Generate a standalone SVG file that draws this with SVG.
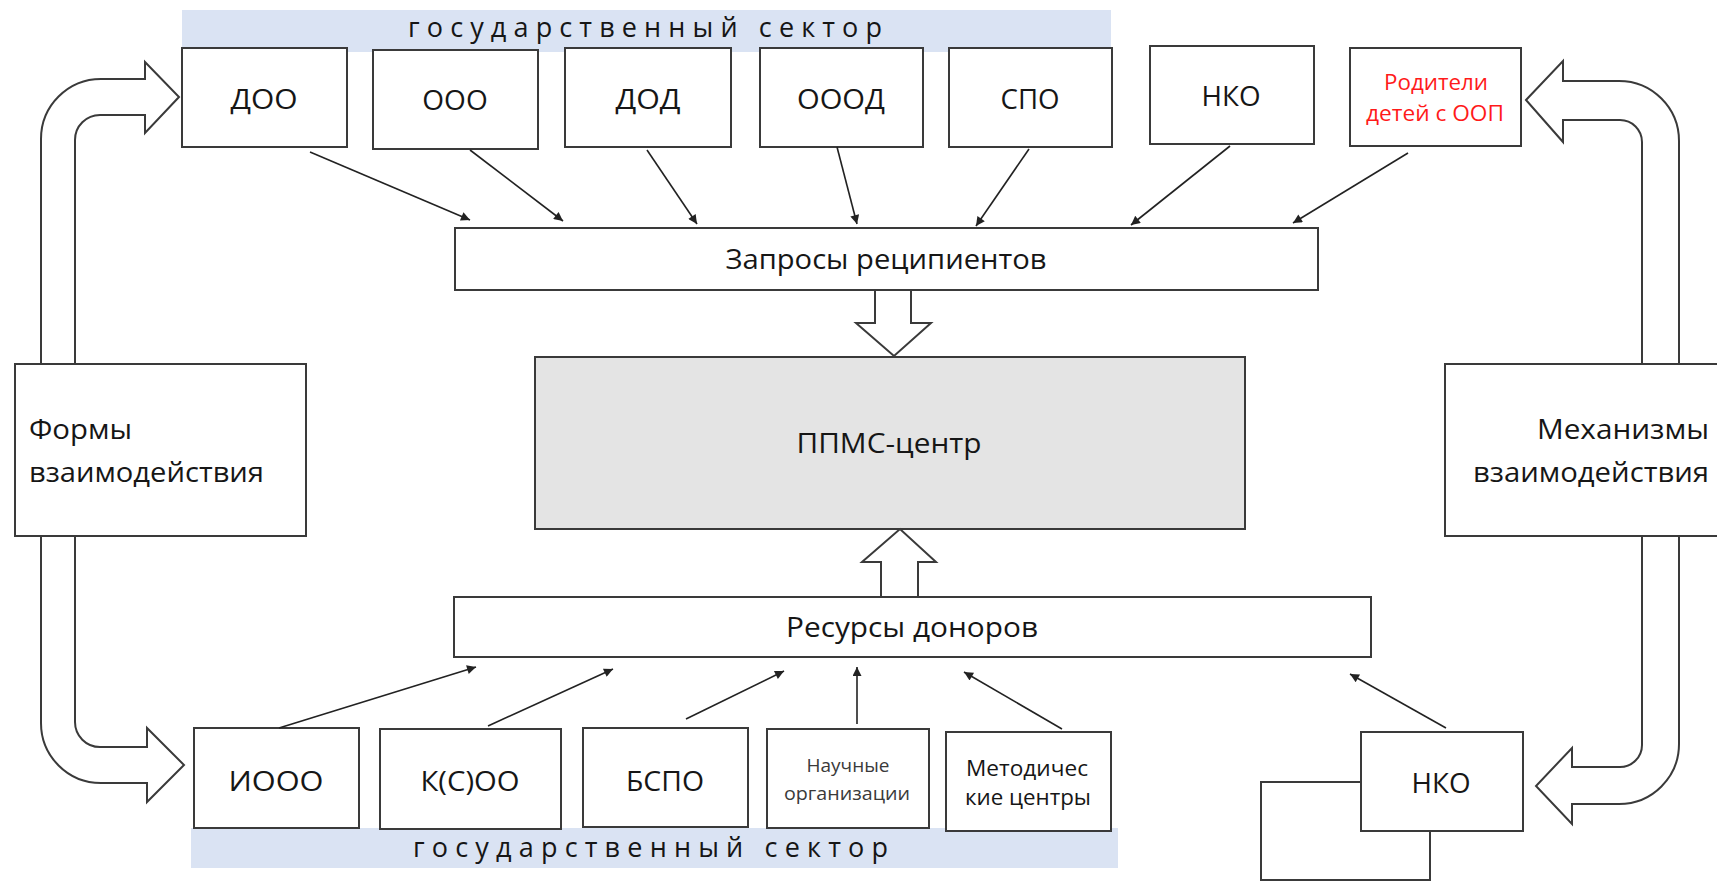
<svg xmlns="http://www.w3.org/2000/svg" width="1717" height="882" viewBox="0 0 1717 882">
<style>
.box{fill:#fff;stroke:#3a3a3a;stroke-width:2}
.center{fill:#e4e4e4;stroke:#3a3a3a;stroke-width:2}
.blk{fill:#fff;stroke:#3a3a3a;stroke-width:2;stroke-linejoin:miter}
.band{fill:#dae3f3}
.lbl{font-family:"Open Sans","Noto Sans",sans-serif;font-size:28px;fill:#161616;text-anchor:middle}
.lbl2{font-family:"Open Sans","Noto Sans",sans-serif;font-size:28px;fill:#161616}
.sm{font-family:"Open Sans","Noto Sans",sans-serif;font-size:22px;fill:#161616;text-anchor:middle}
.xs{font-family:"Open Sans","Noto Sans",sans-serif;font-size:18px;fill:#3a3a3a;text-anchor:middle}
.red{fill:#ff1a1a}
.bandtxt{font-family:"Open Sans","Noto Sans",sans-serif;font-size:27px;fill:#161616}
.conn line{stroke:#222;stroke-width:1.6;marker-end:url(#ah)}
</style>
<defs>
<marker id="ah" viewBox="0 0 10 10" refX="10" refY="5" markerWidth="12" markerHeight="9" markerUnits="userSpaceOnUse" orient="auto">
<path d="M0,0 L10,5 L0,10 z" fill="#222"/>
</marker>
</defs>

<g id="band-top">
<rect class="band" x="182" y="10" width="929" height="42"/>
<text class="bandtxt" x="408" y="37" textLength="474" lengthAdjust="spacing">государственный сектор</text>
</g>
<g id="band-bottom">
<rect class="band" x="191" y="828" width="927" height="40"/>
<text class="bandtxt" x="413" y="857" textLength="475" lengthAdjust="spacing">государственный сектор</text>
</g>

<g id="left-u-arrow">
<path class="blk" d="M179,97 L145,133 L145,115 L100,115 A25,25 0 0 0 75,140 L75,722 A25,25 0 0 0 100,747 L147,747 L147,728 L184,765 L147,802 L147,783 L101,783 A60,60 0 0 1 41,723 L41,139 A60,60 0 0 1 101,79 L145,79 L145,62 Z"/>
</g>
<g id="right-u-arrow">
<path class="blk" d="M1526,100 L1563,61 L1563,81 L1619,81 A60,60 0 0 1 1679,141 L1679,744 A60,60 0 0 1 1619,804 L1572,804 L1572,824 L1536,786 L1572,748 L1572,767 L1620,767 A22,22 0 0 0 1642,745 L1642,142 A22,22 0 0 0 1620,120 L1563,120 L1563,142 Z"/>
</g>

<g id="forms">
<rect class="box" x="15" y="364" width="291" height="172"/>
<text class="lbl2" x="29" y="439" textLength="103" lengthAdjust="spacingAndGlyphs">Формы</text>
<text class="lbl2" x="29" y="482" textLength="235" lengthAdjust="spacingAndGlyphs">взаимодействия</text>
</g>
<g id="mechanisms">
<rect class="box" x="1445" y="364" width="290" height="172"/>
<text class="lbl2" x="1709" y="439" text-anchor="end" textLength="172" lengthAdjust="spacingAndGlyphs">Механизмы</text>
<text class="lbl2" x="1709" y="482" text-anchor="end" textLength="236" lengthAdjust="spacingAndGlyphs">взаимодействия</text>
</g>

<g id="doo"><rect class="box" x="182" y="48" width="165" height="99"/><text class="lbl" x="264" y="109" textLength="67" lengthAdjust="spacingAndGlyphs">ДОО</text></g>
<g id="ooo"><rect class="box" x="373" y="50" width="165" height="99"/><text class="lbl" x="455" y="110">ООО</text></g>
<g id="dod"><rect class="box" x="565" y="48" width="166" height="99"/><text class="lbl" x="648" y="109" textLength="65" lengthAdjust="spacingAndGlyphs">ДОД</text></g>
<g id="oood"><rect class="box" x="760" y="48" width="163" height="99"/><text class="lbl" x="841" y="109" textLength="88" lengthAdjust="spacingAndGlyphs">ОООД</text></g>
<g id="spo"><rect class="box" x="949" y="48" width="163" height="99"/><text class="lbl" x="1030" y="109" textLength="59" lengthAdjust="spacingAndGlyphs">СПО</text></g>
<g id="nko-top"><rect class="box" x="1150" y="46" width="164" height="98"/><text class="lbl" x="1231" y="106" textLength="59" lengthAdjust="spacingAndGlyphs">НКО</text></g>
<g id="parents"><rect class="box" x="1350" y="48" width="171" height="98"/>
<text class="sm red" x="1436" y="90" textLength="104" lengthAdjust="spacingAndGlyphs">Родители</text>
<text class="sm red" x="1435" y="121" textLength="138" lengthAdjust="spacingAndGlyphs">детей с ООП</text></g>

<g id="requests"><rect class="box" x="455" y="228" width="863" height="62"/><text class="lbl" x="886" y="269" textLength="321" lengthAdjust="spacingAndGlyphs">Запросы реципиентов</text></g>

<g id="arrow-down">
<path class="blk" d="M875,290 L911,290 L911,323 L931,323 L894,356 L856,323 L875,323 Z"/>
</g>

<g id="ppms"><rect class="center" x="535" y="357" width="710" height="172"/><text class="lbl" x="889" y="453" textLength="185" lengthAdjust="spacingAndGlyphs">ППМС-центр</text></g>

<g id="arrow-up">
<path class="blk" d="M881,597 L918,597 L918,562 L936,562 L900,529 L862,562 L881,562 Z"/>
</g>

<g id="resources"><rect class="box" x="454" y="597" width="917" height="60"/><text class="lbl" x="912" y="637" textLength="252" lengthAdjust="spacingAndGlyphs">Ресурсы доноров</text></g>

<g id="iooo"><rect class="box" x="194" y="728" width="165" height="100"/><text class="lbl" x="276" y="791" textLength="95" lengthAdjust="spacingAndGlyphs">ИООО</text></g>
<g id="ksoo"><rect class="box" x="380" y="729" width="181" height="100"/><text class="lbl" x="470" y="791" textLength="99" lengthAdjust="spacingAndGlyphs">К(С)ОО</text></g>
<g id="bspo"><rect class="box" x="583" y="728" width="165" height="99"/><text class="lbl" x="665" y="791" textLength="78" lengthAdjust="spacingAndGlyphs">БСПО</text></g>
<g id="science"><rect class="box" x="767" y="729" width="162" height="99"/>
<text class="xs" x="848" y="772" textLength="83" lengthAdjust="spacingAndGlyphs">Научные</text>
<text class="xs" x="847" y="800" textLength="126" lengthAdjust="spacingAndGlyphs">организации</text></g>
<g id="method"><rect class="box" x="946" y="732" width="165" height="99"/>
<text class="sm" x="1027" y="776" textLength="122" lengthAdjust="spacingAndGlyphs">Методичес</text>
<text class="sm" x="1028" y="805" textLength="126" lengthAdjust="spacingAndGlyphs">кие центры</text></g>

<g id="nko-back"><rect class="box" x="1261" y="782" width="169" height="98"/></g>
<g id="nko-bottom"><rect class="box" x="1361" y="732" width="162" height="99"/><text class="lbl" x="1441" y="793" textLength="59" lengthAdjust="spacingAndGlyphs">НКО</text></g>

<g id="connectors" class="conn">
<line x1="310" y1="152" x2="470" y2="220"/>
<line x1="470" y1="150" x2="563" y2="221"/>
<line x1="647" y1="150" x2="697" y2="224"/>
<line x1="837" y1="147" x2="857" y2="224"/>
<line x1="1029" y1="149" x2="976" y2="226"/>
<line x1="1230" y1="146" x2="1131" y2="225"/>
<line x1="1408" y1="153" x2="1293" y2="223"/>
<line x1="279" y1="728" x2="476" y2="667"/>
<line x1="488" y1="726" x2="613" y2="669"/>
<line x1="686" y1="719" x2="784" y2="671"/>
<line x1="857" y1="724" x2="857" y2="667"/>
<line x1="1062" y1="729" x2="964" y2="672"/>
<line x1="1446" y1="728" x2="1350" y2="674"/>
</g>
</svg>
